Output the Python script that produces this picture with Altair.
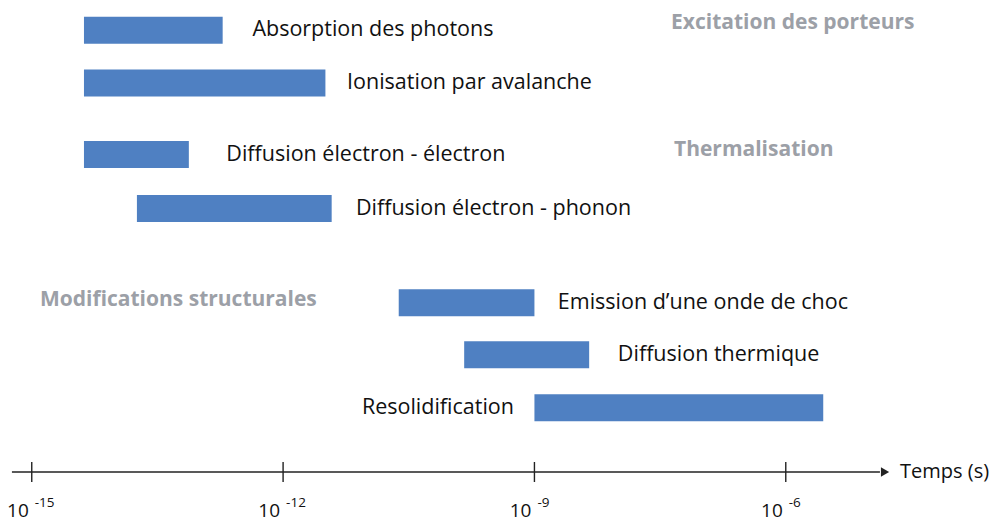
import altair as alt
import pandas as pd

# ---- data (times in seconds) ----
processes = ["Absorption des photons", "Ionisation par avalanche",
             "Diffusion électron - électron", "Diffusion électron - phonon",
             "Emission d\u2019une onde de choc", "Diffusion thermique", "Resolidification"]
start_s = [4.2e-15, 4.2e-15, 4.2e-15, 1.8e-14, 2.4e-11, 1.45e-10, 1e-9]
end_s = [1.9e-13, 3.2e-12, 7.5e-14, 3.8e-12, 1e-9, 4.5e-9, 2.8e-6]
lane = [0, 1, 2.35, 3.37, 5.15, 6.13, 7.13]
label_at = [4.3e-13, 5.8e-12, 2.1e-13, 7.4e-12, 1.9e-9, 9.9e-9, 5.7e-10]
label_side = ["left", "left", "left", "left", "left", "left", "right"]

groups = ["Excitation des porteurs", "Thermalisation", "Modifications structurales"]
group_at = [4.27e-8, 4.63e-8, 1.254e-15]
group_lane = [-0.14, 2.27, 5.10]

tick_values = [1e-15, 1e-12, 1e-9, 1e-6]
tick_base = ["10", "10", "10", "10"]
tick_exp = ["-15", "-12", "-9", "-6"]

axis_from, axis_to, arrow_at = 5.8e-16, 1.33e-5, 1.53e-5
axis_title, axis_title_at = "Temps (s)", 2.31e-5

FONT = "Open Sans"
BLUE = "#4f80c2"
GREY = "#9ca0a7"
INK = "#111111"

df = pd.DataFrame({"process": processes, "start": start_s, "end": end_s,
                   "lane": lane, "label_at": label_at, "side": label_side})
gdf = pd.DataFrame({"group": groups, "at": group_at, "lane": group_lane})
tdf = pd.DataFrame({"tick": tick_values, "base": tick_base, "exp": tick_exp})
adf = pd.DataFrame({"a": [axis_from], "b": [axis_to], "arrow": [arrow_at],
                    "title": [axis_title], "title_at": [axis_title_at]})

W, H = 982, 515
xs = alt.Scale(type="log", domain=[10 ** -15.2835, 10 ** -3.5624], nice=False)
ys = alt.Scale(domain=[-17.5 / 54, (H - 17.5) / 54], reverse=True, zero=False, nice=False)

X = lambda f: alt.X(f, type="quantitative", scale=xs, axis=None)
Y = lambda f: alt.Y(f, type="quantitative", scale=ys, axis=None)

bars = alt.Chart(df).mark_bar(size=27, color=BLUE).encode(
    x=X("start"), x2="end", y=Y("lane"))

lab_left = alt.Chart(df).transform_filter(alt.datum.side == "left").mark_text(
    align="left", baseline="middle", font=FONT, fontSize=21.5, color=INK).encode(
    x=X("label_at"), y=Y("lane"), text="process")
lab_right = alt.Chart(df).transform_filter(alt.datum.side == "right").mark_text(
    align="right", baseline="middle", font=FONT, fontSize=21.5, color=INK).encode(
    x=X("label_at"), y=Y("lane"), text="process")

grp = alt.Chart(gdf).mark_text(align="left", baseline="middle", font=FONT,
                               fontSize=21, fontWeight="bold", color=GREY).encode(
    x=X("at"), y=Y("lane"), text="group")

axis_line = alt.Chart(adf).mark_rule(color="#222222", strokeWidth=1.6).encode(
    x=X("a"), x2="b", y=alt.value(464))
arrow = alt.Chart(adf).mark_point(shape="triangle-right", filled=True, size=90,
                                  color="#222222", opacity=1).encode(
    x=X("arrow"), y=alt.value(464))
title = alt.Chart(adf).mark_text(align="left", baseline="middle", font=FONT,
                                 fontSize=20, color=INK).encode(
    x=X("title_at"), y=alt.value(464), text="title")

ticks = alt.Chart(tdf).mark_rule(color="#222222", strokeWidth=1.4).encode(
    x=X("tick"), y=alt.value(454), y2=alt.value(474))
tbase = alt.Chart(tdf).mark_text(align="right", baseline="alphabetic", dx=-3,
                                 font=FONT, fontSize=19, color=INK).encode(
    x=X("tick"), y=alt.value(509), text="base")
texp = alt.Chart(tdf).mark_text(align="left", baseline="alphabetic", dx=3,
                                font=FONT, fontSize=13.5, color=INK).encode(
    x=X("tick"), y=alt.value(499), text="exp")

chart = alt.layer(bars, lab_left, lab_right, grp, axis_line, arrow, title,
                  ticks, tbase, texp).properties(
    width=W, height=H,
    autosize=alt.AutoSizeParams(type="none"),
    padding=0,
).configure_view(stroke=None)

chart.save("out.html", embed_options={"renderer": "svg", "actions": False})
